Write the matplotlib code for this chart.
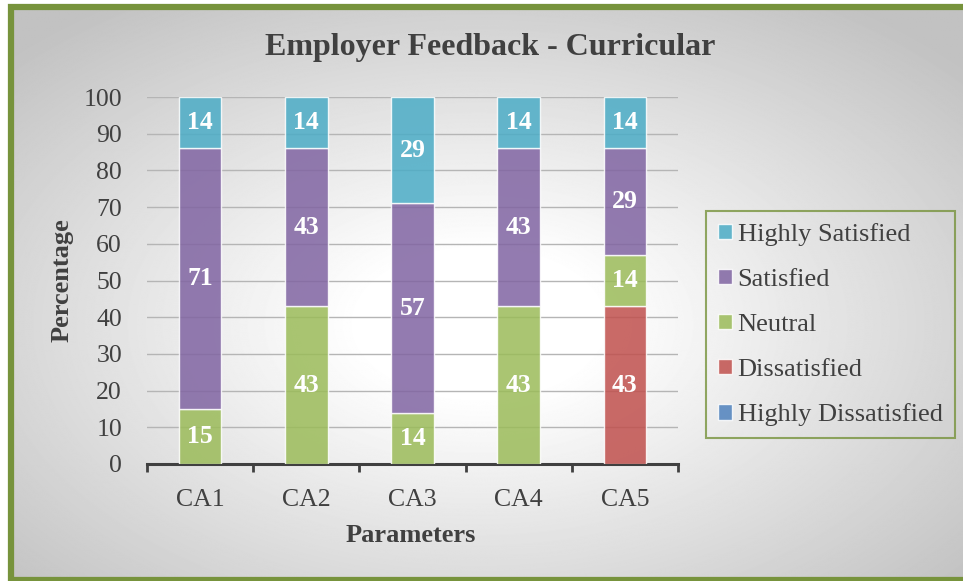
import numpy as np
import matplotlib.pyplot as plt
from matplotlib.patches import Patch

plt.rcParams['font.family'] = ['Liberation Serif', 'DejaVu Serif']

# data
parametre = ['CA1', 'CA2', 'CA3', 'CA4', 'CA5']
serier = ['Highly Dissatisfied', 'Dissatisfied', 'Neutral', 'Satisfied', 'Highly Satisfied']
highly_dissatisfied = [0, 0, 0, 0, 0]
dissatisfied = [0, 0, 0, 0, 43]
neutral = [15, 43, 14, 43, 14]
satisfied = [71, 43, 57, 43, 29]
highly_satisfied = [14, 14, 29, 14, 14]
y_ticks = list(range(0, 101, 10))

farger = {
    'Highly Dissatisfied': '#4F81BD',
    'Dissatisfied': '#C0504D',
    'Neutral': '#9BBB59',
    'Satisfied': '#8064A2',
    'Highly Satisfied': '#4BACC6',
}
tekstfarge = '#404040'
kantfarge = '#77933C'

W, H = 963, 581
fig = plt.figure(figsize=(W / 100, H / 100), dpi=100)

# bakgrunn: radial gradient + groenn ramme (hoeyre kant er kuttet)
bg = fig.add_axes([0, 0, 1, 1], zorder=-10)
bg.set_xlim(0, W)
bg.set_ylim(H, 0)
bg.axis('off')
yy, xx = np.mgrid[0:H, 0:W]
d = np.sqrt(((xx - 470) / (W / 2)) ** 2 + ((yy - 320) / (H / 2)) ** 2)
verdi = 1 - 0.24 * np.clip((d - 0.25) / 1.1, 0, 1)
bg.imshow(verdi, cmap='gray', vmin=0, vmax=1, extent=(10.5, W + 5, H + 1, 6.5),
          aspect='auto', interpolation='bilinear')
bg.plot([W + 10, 10.5, 10.5, W + 10], [6.5, 6.5, 580, 580], color=kantfarge,
        linewidth=4.5, solid_joinstyle='miter')

ax = fig.add_axes([147 / W, 1 - 464 / H, (678 - 147) / W, (464 - 97) / H])
ax.set_facecolor('none')

data = {
    'Highly Dissatisfied': highly_dissatisfied,
    'Dissatisfied': dissatisfied,
    'Neutral': neutral,
    'Satisfied': satisfied,
    'Highly Satisfied': highly_satisfied,
}
x = np.arange(len(parametre))
bunn = np.zeros(len(parametre))
for navn in serier:
    verdier = np.array(data[navn], dtype=float)
    ax.bar(x, verdier, width=0.4, bottom=bunn, color=farger[navn], alpha=0.85,
           edgecolor='white', linewidth=1, zorder=3)
    for xi, b, v in zip(x, bunn, verdier):
        if v > 0:
            ax.text(xi, b + v / 2, f'{v:.0f}', ha='center', va='center', color='white',
                    fontsize=18.5, fontweight='bold', zorder=4)
    bunn += verdier

ax.set_xlim(-0.5, len(parametre) - 0.5)
ax.set_ylim(0, 100)
ax.set_yticks(y_ticks)
ax.yaxis.grid(True, color='#b5b5b5', linewidth=1, zorder=0)
ax.set_axisbelow(True)
ax.tick_params(axis='y', length=0, pad=18, labelsize=18.5, labelcolor=tekstfarge)

ax.set_xticks(x)
ax.set_xticklabels(parametre)
ax.set_xticks(np.arange(-0.5, len(parametre)), minor=True)
ax.tick_params(axis='x', which='major', length=0, pad=18, labelsize=18.5, labelcolor=tekstfarge)
ax.tick_params(axis='x', which='minor', length=6, width=2, color=tekstfarge)

for side in ['left', 'right', 'top']:
    ax.spines[side].set_visible(False)
ax.spines['bottom'].set_color(tekstfarge)
ax.spines['bottom'].set_linewidth(2.2)

fig.text(490 / W, 1 - 47 / H, 'Employer Feedback - Curricular', ha='center', va='center',
         fontsize=23, fontweight='bold', color=tekstfarge)
fig.text(62 / W, 1 - 280 / H, 'Percentage', rotation=90, ha='center', va='center',
         fontsize=19, fontweight='bold', color=tekstfarge)
fig.text(411 / W, 1 - 536 / H, 'Parameters', ha='center', va='center',
         fontsize=19, fontweight='bold', color=tekstfarge)

handles = [Patch(facecolor=farger[n], alpha=0.85, edgecolor='white') for n in reversed(serier)]
leg = fig.legend(handles, list(reversed(serier)), loc='upper left',
                 bbox_to_anchor=(706 / W, 1 - 211 / H), fontsize=19, frameon=True,
                 fancybox=False, handlelength=0.55, handleheight=0.55, handletextpad=0.2,
                 labelspacing=0.86, borderpad=0.45, borderaxespad=0)
leg.get_frame().set_edgecolor(kantfarge)
leg.get_frame().set_linewidth(1.5)
leg.get_frame().set_facecolor('none')
for t in leg.get_texts():
    t.set_color(tekstfarge)

fig.savefig('out.png', dpi=100)
